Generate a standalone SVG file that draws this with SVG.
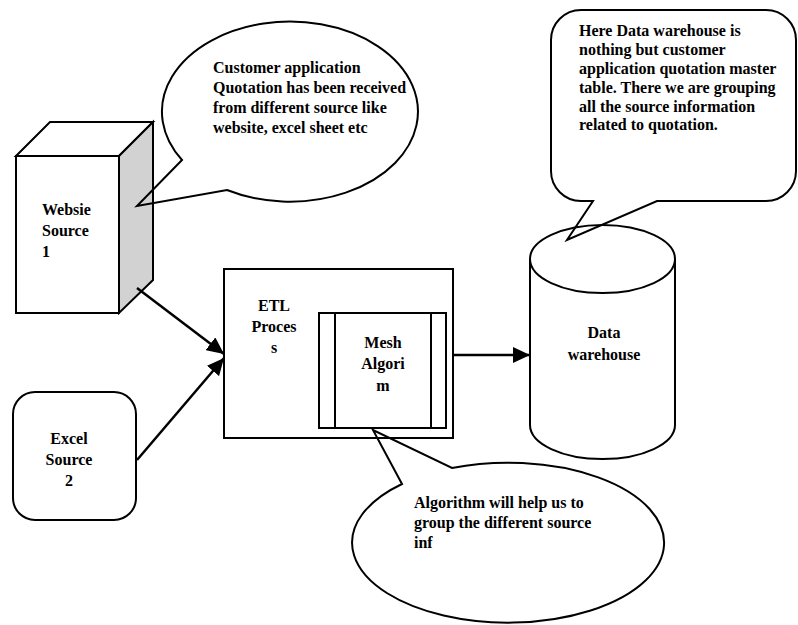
<svg xmlns="http://www.w3.org/2000/svg" width="798" height="625" viewBox="0 0 798 625">
<style>
.s{stroke:#000;stroke-width:2;fill:#fff}
.c{stroke:#000;stroke-width:2;fill:none}
.t{font-family:"Liberation Serif","Times New Roman",serif;font-weight:bold;font-size:16px;fill:#000}
.m{text-anchor:middle}
.e{stroke:#000;stroke-width:2.5;fill:none}
</style>
<defs>
<marker id="ah" markerUnits="userSpaceOnUse" markerWidth="18" markerHeight="16" refX="17" refY="8" orient="auto">
<path d="M0,0 L17,8 L0,16 Z" fill="#000"/>
</marker>
</defs>
<g id="websie-source">
<rect class="s" x="16" y="156" width="103" height="157"/>
<polygon class="s" points="16,156 50,122 153,122 119,156"/>
<polygon class="s" style="fill:#d2d2d2" points="119,156 153,122 153,280 119,313"/>
<text class="t"><tspan x="42" y="215">Websie</tspan><tspan x="42" y="236">Source</tspan><tspan x="42" y="257">1</tspan></text>
</g>
<g id="excel-source">
<rect class="s" x="13" y="392" width="123" height="128" rx="22"/>
<text class="t m"><tspan x="69" y="444">Excel</tspan><tspan x="69" y="465">Source</tspan><tspan x="69" y="486">2</tspan></text>
</g>
<g id="etl-process">
<rect class="s" x="224" y="269" width="229" height="169"/>
<text class="t m"><tspan x="274" y="311">ETL</tspan><tspan x="274" y="332">Proces</tspan><tspan x="274" y="353">s</tspan></text>
</g>
<g id="mesh-algorithm">
<rect class="s" x="319" y="313" width="127" height="115"/>
<line class="c" x1="335" y1="313" x2="335" y2="428"/>
<line class="c" x1="431" y1="313" x2="431" y2="428"/>
<text class="t m"><tspan x="383" y="348">Mesh</tspan><tspan x="383" y="369">Algori</tspan><tspan x="383" y="391">m</tspan></text>
</g>
<g id="data-warehouse">
<path class="s" d="M530,259 V425 A72.5,34 0 0 0 675,425 V259"/>
<ellipse class="s" cx="602.5" cy="259" rx="72.5" ry="34"/>
<text class="t m"><tspan x="604" y="338">Data</tspan><tspan x="604" y="360">warehouse</tspan></text>
</g>
<g id="connectors">
<line class="e" x1="137" y1="288" x2="224" y2="354" marker-end="url(#ah)"/>
<line class="e" x1="137" y1="460" x2="224" y2="358" marker-end="url(#ah)"/>
<line class="e" x1="453" y1="355" x2="530" y2="355" marker-end="url(#ah)"/>
</g>
<g id="callout-sources">
<path class="c" d="M182,160 L137,206 L227,190 A128,90 0 1 0 182,160 Z"/>
<text class="t"><tspan x="213" y="73">Customer application</tspan><tspan x="213" y="93">Quotation has been received</tspan><tspan x="213" y="113">from different source like</tspan><tspan x="213" y="133">website, excel sheet etc</tspan></text>
</g>
<g id="callout-warehouse">
<path class="c" d="M581,10 H766 A30,30 0 0 1 796,40 V171 A30,30 0 0 1 766,201 H657 L567,240 L593,201 H581 A30,30 0 0 1 551,171 V40 A30,30 0 0 1 581,10 Z"/>
<text class="t"><tspan x="579" y="36">Here Data warehouse is</tspan><tspan x="579" y="55">nothing but customer</tspan><tspan x="579" y="74">application quotation master</tspan><tspan x="579" y="93">table. There we are grouping</tspan><tspan x="579" y="112">all the source information</tspan><tspan x="579" y="130">related to quotation.</tspan></text>
</g>
<g id="callout-algorithm">
<path class="c" d="M402,484 L373,430 L452,468 A156,80 0 1 1 402,484 Z"/>
<text class="t"><tspan x="414" y="508">Algorithm will help us to</tspan><tspan x="414" y="528">group the different source</tspan><tspan x="414" y="548">inf</tspan></text>
</g>
</svg>
